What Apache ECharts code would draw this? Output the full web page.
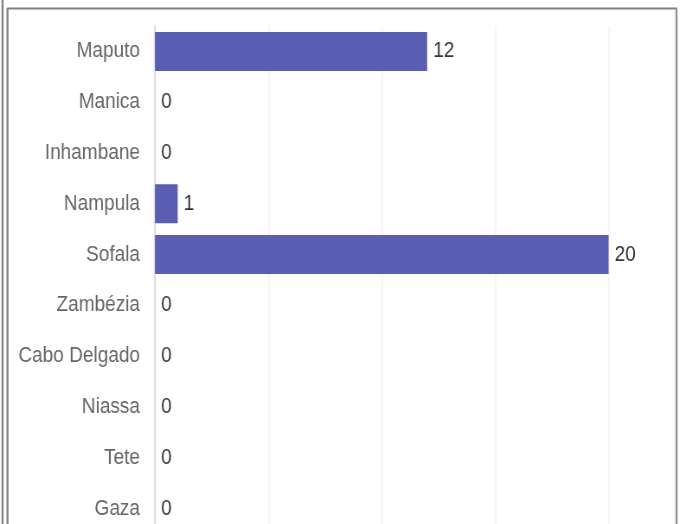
<!DOCTYPE html>
<html>
<head>
<meta charset="utf-8">
<script src="https://cdn.jsdelivr.net/npm/echarts@6/dist/echarts.min.js"></script>
<style>
  html, body { margin: 0; padding: 0; background: #fff; overflow: hidden; }
  /* the source screenshot is squeezed sideways, so the whole chart is drawn wide and squeezed back */
  #main { width: 856px; height: 540px; transform: scaleX(0.865); transform-origin: 0 0; }
</style>
</head>
<body>
<div id="main"></div>
<script>
// provinces and counts
var provinces = ['Maputo', 'Manica', 'Inhambane', 'Nampula', 'Sofala', 'Zambézia', 'Cabo Delgado', 'Niassa', 'Tete', 'Gaza'];
var counts = [12, 0, 0, 1, 20, 0, 0, 0, 0, 0];
var xTicks = [0, 5, 10, 15, 20, 25];

var sx = 0.865;
var W = 856;
var myChart = echarts.init(document.getElementById('main'));

var font = "'Liberation Sans', Arial, sans-serif";

option = {
    animation: false,
    grid: {
        left: 155 / sx,
        right: W - 722 / sx,
        top: 26,
        bottom: 6
    },
    xAxis: {
        type: 'value',
        min: xTicks[0],
        max: xTicks[xTicks.length - 1],
        interval: xTicks[1] - xTicks[0],
        axisLabel: { show: false },
        axisLine: { show: false },
        axisTick: { show: false },
        splitLine: { lineStyle: { color: '#f5f5f7', width: 2 / sx } }
    },
    yAxis: {
        type: 'category',
        inverse: true,
        data: provinces,
        axisLine: { lineStyle: { color: '#dedee6', width: 2 / sx } },
        axisTick: { show: false },
        axisLabel: {
            fontFamily: font,
            fontSize: 22,
            color: '#666',
            margin: 15 / sx
        }
    },
    series: [
        {
            type: 'bar',
            data: counts,
            barWidth: 39,
            itemStyle: { color: '#5a5db1' },
            label: {
                show: true,
                position: 'right',
                distance: 6 / sx,
                fontFamily: font,
                fontSize: 22,
                color: '#333'
            }
        }
    ],
    graphic: [
        { type: 'line', shape: { x1: 2.5 / sx, y1: 0, x2: 2.5 / sx, y2: 540 }, style: { stroke: '#808080', lineWidth: 2 / sx } },
        { type: 'line', shape: { x1: 7.5 / sx, y1: 8, x2: 7.5 / sx, y2: 540 }, style: { stroke: '#808080', lineWidth: 2 / sx } },
        { type: 'line', shape: { x1: 7 / sx, y1: 8.5, x2: 677 / sx, y2: 8.5 }, style: { stroke: '#808080', lineWidth: 2 } },
        { type: 'line', shape: { x1: 676.5 / sx, y1: 8, x2: 676.5 / sx, y2: 540 }, style: { stroke: '#909090', lineWidth: 2 / sx } }
    ]
};

myChart.setOption(option);
</script>
</body>
</html>
